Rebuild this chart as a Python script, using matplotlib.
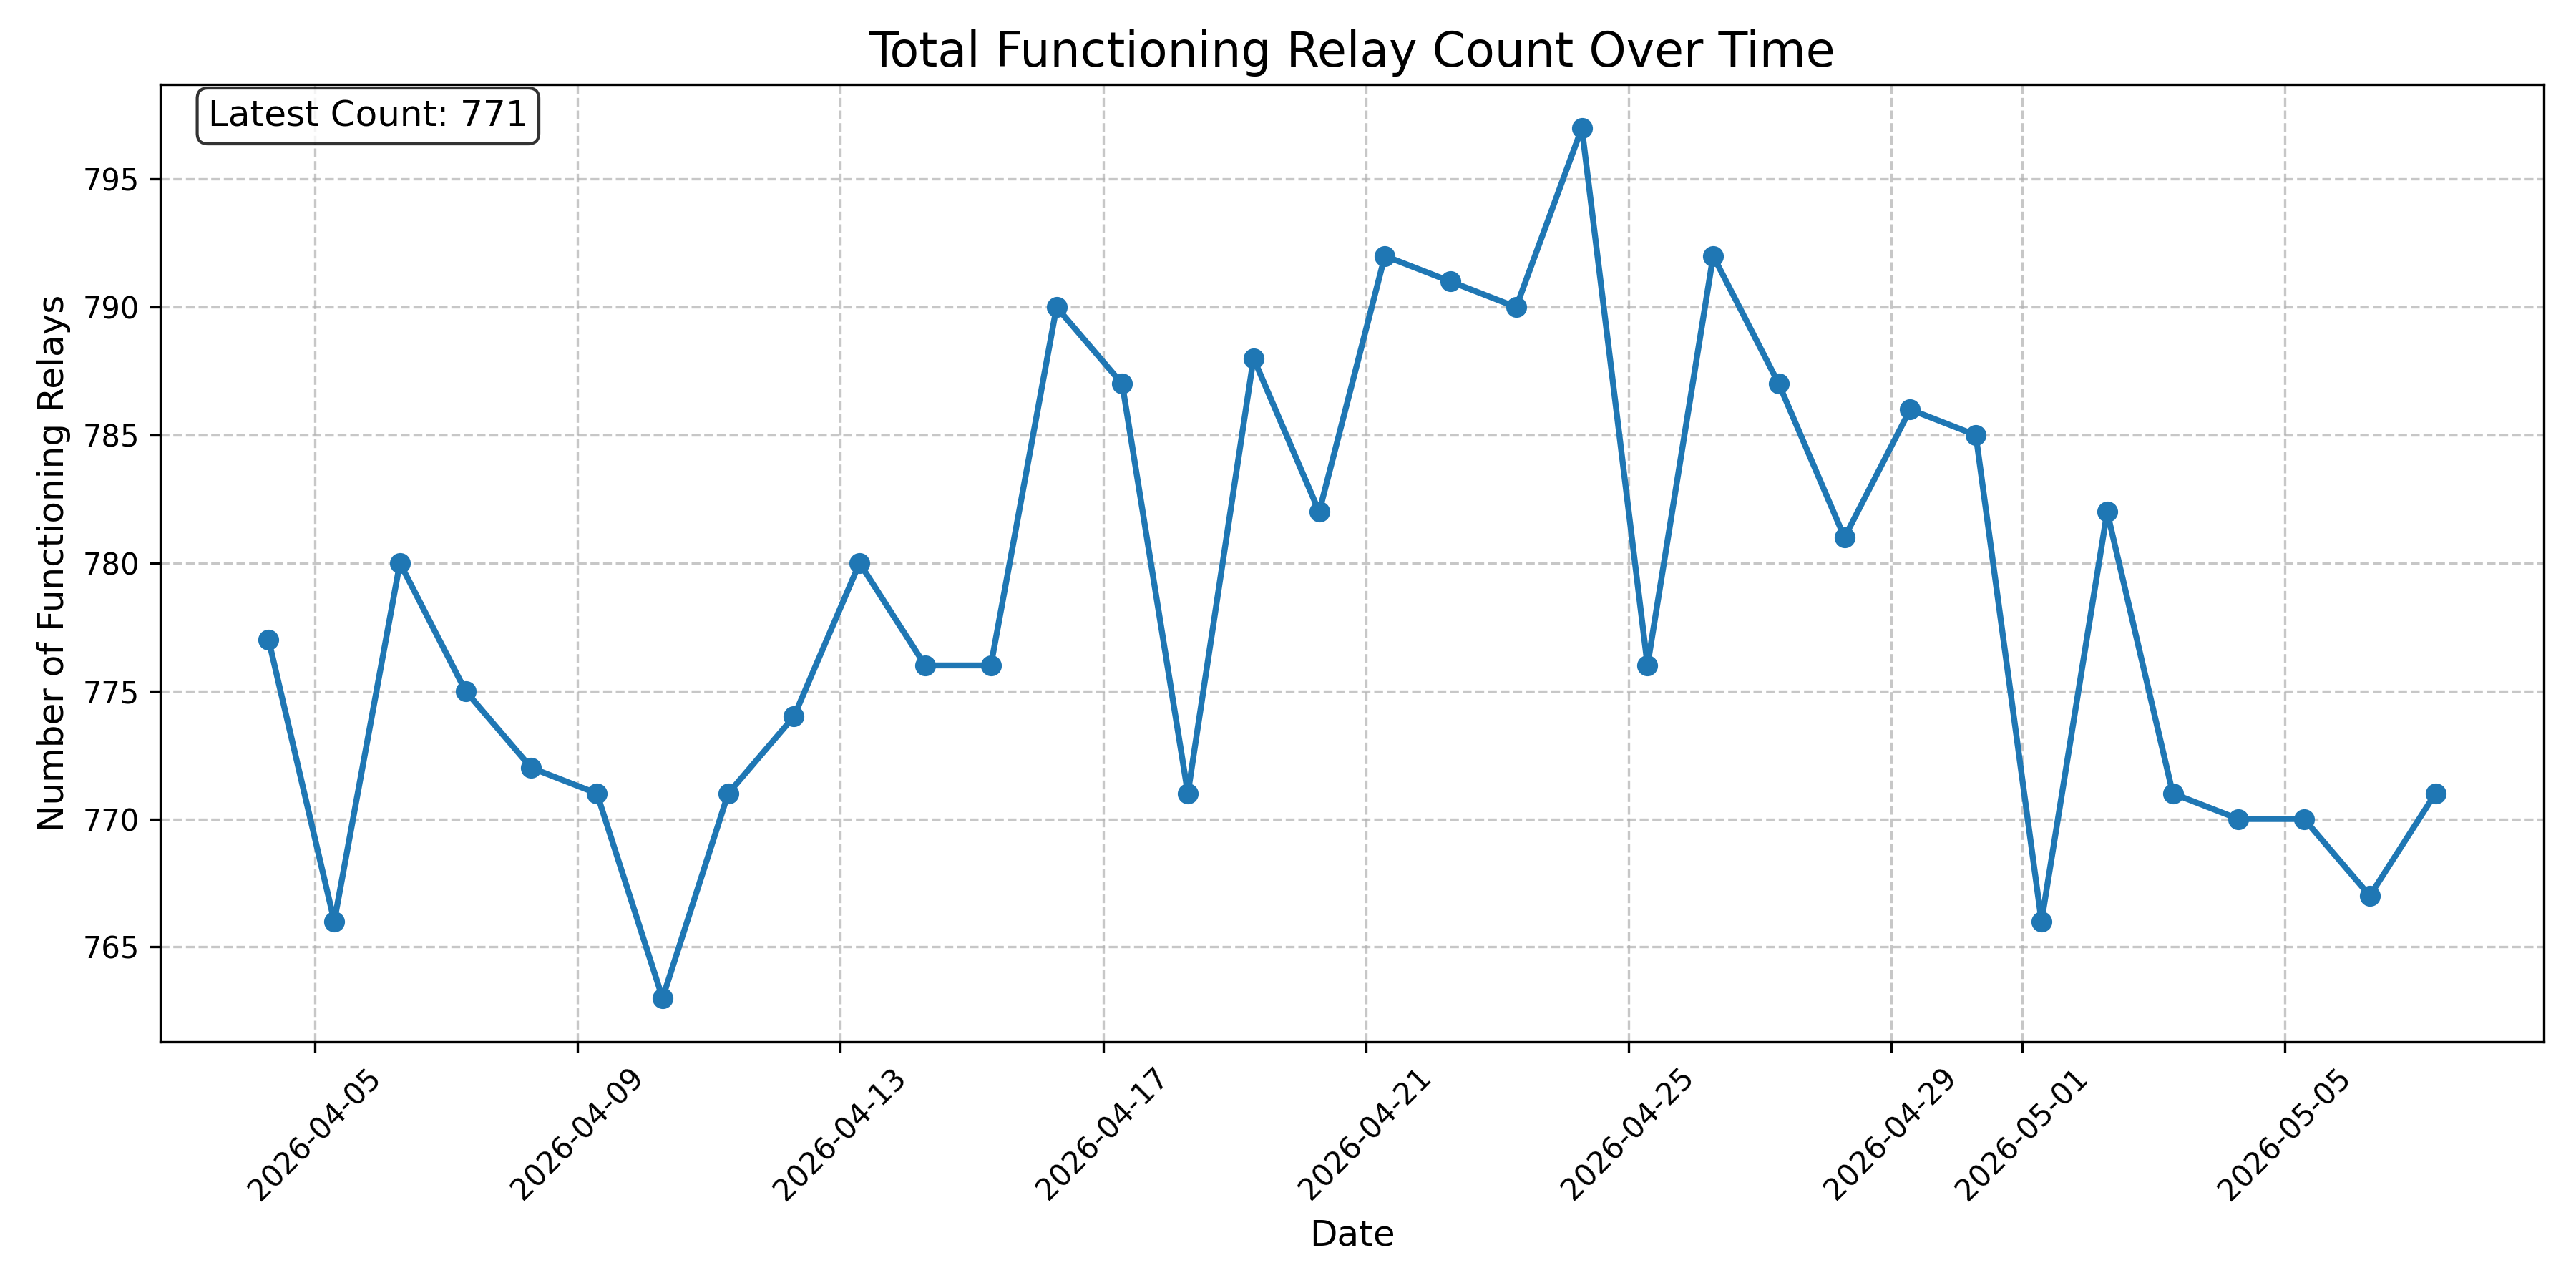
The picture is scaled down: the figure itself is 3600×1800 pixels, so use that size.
import matplotlib
matplotlib.use("Agg")
import matplotlib.pyplot as plt
import pandas as pd

# relay counts, one snapshot per day
dates = pd.date_range("2026-04-04 07:00", "2026-05-07 07:00", freq="D")
counts = [777, 766, 780, 775, 772, 771, 763, 771, 774, 780,
          776, 776, 790, 787, 771, 788, 782, 792, 791, 790,
          797, 776, 792, 787, 781, 786, 785, 766, 782, 771,
          770, 770, 767, 771]

fig, ax = plt.subplots(figsize=(12, 6))
ax.plot(dates, counts, marker="o", linestyle="-", linewidth=2, markersize=6)

ax.set_title("Total Functioning Relay Count Over Time", fontsize=16)
ax.set_xlabel("Date", fontsize=12)
ax.set_ylabel("Number of Functioning Relays", fontsize=12)
ax.grid(True, linestyle="--", alpha=0.7)
plt.xticks(rotation=45)

ax.text(0.02, 0.985, f"Latest Count: {counts[-1]}", transform=ax.transAxes,
        fontsize=12, va="top",
        bbox=dict(boxstyle="round", facecolor="white", alpha=0.8))

plt.tight_layout()
plt.savefig("out.png", dpi=300)
